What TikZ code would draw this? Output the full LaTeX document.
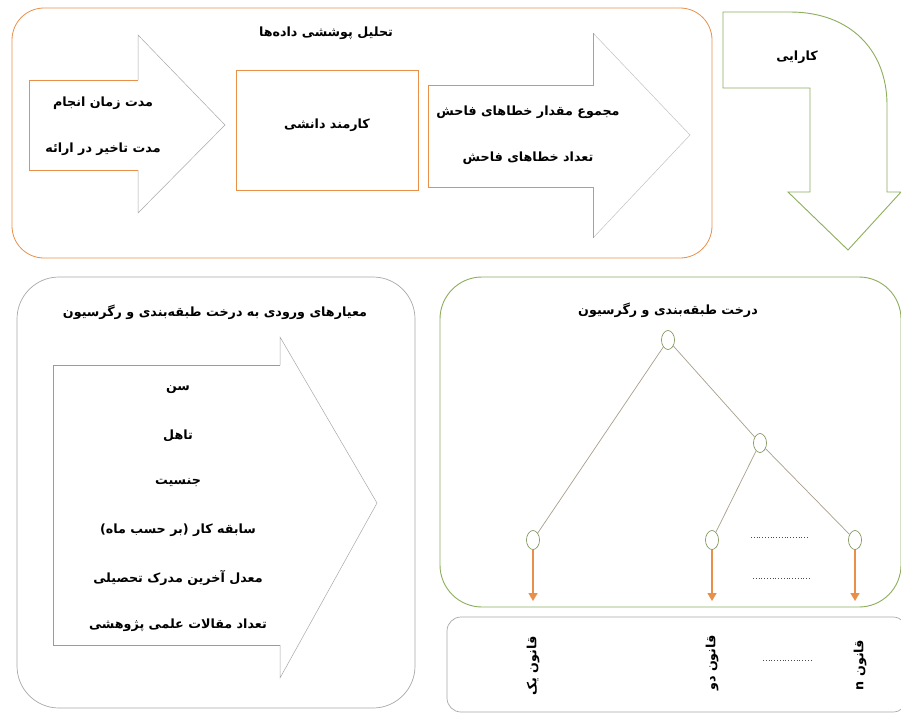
\documentclass[tikz,border=0pt]{standalone}
\usepackage{fontspec}
\newfontfamily\fa[Script=Arabic]{DejaVu Sans}
\TeXXeTstate=1
\usetikzlibrary{arrows.meta,shapes.geometric}
\definecolor{org}{HTML}{E8904A}
\definecolor{grn}{HTML}{8DAE5C}
\definecolor{gry}{HTML}{A8A8A8}
\definecolor{edg}{HTML}{A89F8C}
\tikzset{
  lbl/.style={font=\fa\bfseries\fontsize{12.7}{15}\selectfont, inner sep=1pt},
  tnode/.style={draw=grn!80!black, ellipse, minimum width=13pt, minimum height=19pt, inner sep=0pt, fill=white, line width=0.6pt},
  tedge/.style={draw=edg, line width=0.7pt},
  leafarr/.style={draw=org, line width=1.3pt, -{Triangle[length=8pt,width=9pt]}},
  dots/.style={draw=black!70, dotted, line width=0.8pt}
}
\begin{document}
\begin{tikzpicture}[x=1pt,y=-1pt]
\useasboundingbox (0,0) rectangle (901,715);
\fill[white] (0,0) rectangle (901,715);
% ---------- top box
\draw[org, line width=0.8pt, rounded corners=32pt] (12,8) rectangle (712,258);
\node[lbl] (t1) at (326,33) {\beginR تحلیل پوششی داده‌ها\endR};
% left arrow
\fill[white] (29,80)--(138,80)--(138,35)--(225,125)--(138,213)--(138,170)--(29,170)--cycle;
\draw[gry, line width=0.5pt] (138,80)--(138,35)--(225,125)--(138,213)--(138,170);
\draw[org, line width=1pt] (138,80)--(29,80)--(29,170)--(138,170);
\node[lbl] (a1) at (103,103) {\beginR مدت زمان انجام\endR};
\node[lbl] (a2) at (103,149) {\beginR مدت تاخیر در ارائه\endR};
% middle box
\draw[org, line width=1pt, fill=white] (236,70) rectangle (418,190);
\node[lbl] (m1) at (327,125) {\beginR کارمند دانشی\endR};
% right arrow
\fill[white] (428,85)--(593,85)--(593,33)--(690,135)--(593,238)--(593,187)--(428,187)--cycle;
\draw[gry!70, line width=0.5pt] (593,33)--(690,135)--(593,238);
\draw[org, line width=1pt] (593,33)--(593,85)--(428,85)--(428,187)--(593,187)--(593,238);
\node[lbl] (r1) at (528,112) {\beginR مجموع مقدار خطاهای فاحش\endR};
\node[lbl] (r2) at (528,158) {\beginR تعداد خطاهای فاحش\endR};
% ---------- bent green arrow
\draw[grn, line width=0.9pt, fill=white] (723,12) -- (790,12) .. controls (850,12) and (887,50) .. (887,105)
  -- (887,192) -- (901,192) -- (848,250) -- (788,192) -- (810,192) -- (810,88) -- (723,88) -- cycle;
\node[lbl] (k1) at (797,57) {\beginR کارایی\endR};
% ---------- bottom left box
\draw[gry, line width=0.7pt, rounded corners=42pt] (17,277) rectangle (415,708);
\node[lbl] (b0) at (215,312) {\beginR معیارهای ورودی به درخت طبقه‌بندی و رگرسیون\endR};
\fill[white] (53,365)--(280,365)--(280,337)--(377,503)--(280,678)--(280,645)--(53,645)--cycle;
\draw[gry, line width=0.5pt] (280,365)--(280,337)--(377,503)--(280,678)--(280,645);
\draw[grn, line width=1pt] (280,365)--(53,365)--(53,645)--(280,645);
\node[lbl] (c1) at (178,390) {\beginR سن\endR};
\node[lbl] (c2) at (178,436) {\beginR تاهل\endR};
\node[lbl] (c3) at (178,483) {\beginR جنسیت\endR};
\node[lbl] (c4) at (178,530) {\beginR سابقه کار (بر حسب ماه)\endR};
\node[lbl] (c5) at (178,578) {\beginR معدل آخرین مدرک تحصیلی\endR};
\node[lbl] (c6) at (178,625) {\beginR تعداد مقالات علمی پژوهشی\endR};
% ---------- tree box
\draw[grn, line width=0.9pt, rounded corners=42pt] (440,277) rectangle (901,607);
\node[lbl] (tt) at (668,310) {\beginR درخت طبقه‌بندی و رگرسیون\endR};
\node[tnode] (n0) at (668,340) {};
\node[tnode] (n1) at (760,443) {};
\node[tnode] (l1) at (533,540) {};
\node[tnode] (l2) at (712,540) {};
\node[tnode] (l3) at (855,540) {};
\draw[tedge] (n0) -- (l1);
\draw[tedge] (n0) -- (n1);
\draw[tedge] (n1) -- (l2);
\draw[tedge] (n1) -- (l3);
\coordinate (e1) at (533,601);
\coordinate (e2) at (712,601);
\coordinate (e3) at (855,601);
\draw[leafarr] (l1) -- (e1);
\draw[leafarr] (l2) -- (e2);
\draw[leafarr] (l3) -- (e3);
\coordinate (d1a) at (751,537); \coordinate (d1b) at (809,537);
\coordinate (d2a) at (753,578); \coordinate (d2b) at (811,578);
\draw[dots] (d1a) -- (d1b);
\draw[dots] (d2a) -- (d2b);
% ---------- rules box
\draw[gry, line width=0.7pt, rounded corners=14pt] (447,617) rectangle (907,712);
\node[lbl, rotate=90] (q1) at (533,666) {\beginR قانون یک\endR};
\node[lbl, rotate=90] (q2) at (712,663) {\beginR قانون دو\endR};
\node[lbl, rotate=90] (q3) at (860,665) {\beginR قانون n\endR};
\coordinate (d3a) at (763,660); \coordinate (d3b) at (811,660);
\draw[dots] (d3a) -- (d3b);
\end{tikzpicture}
\end{document}
